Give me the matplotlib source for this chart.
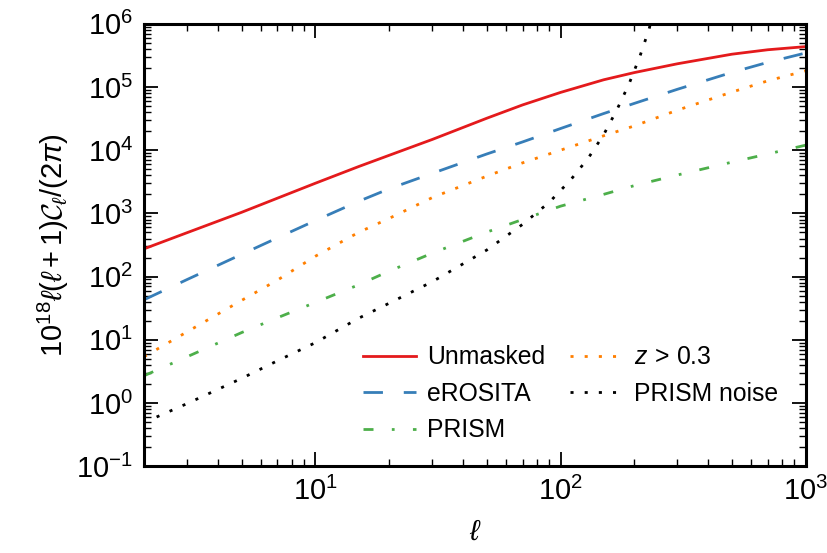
"""
Angular power spectra for the different masks, with PRISM noise
"""

import matplotlib
matplotlib.use('Agg')
from matplotlib import pyplot as plt

plt.rcParams['font.family'] = ['Liberation Sans', 'DejaVu Sans']
plt.rcParams['mathtext.fontset'] = 'custom'
plt.rcParams['mathtext.rm'] = 'Liberation Sans'
plt.rcParams['mathtext.it'] = 'Liberation Sans:italic'
plt.rcParams['mathtext.cal'] = 'cmsy10'
plt.rcParams['font.size'] = 21

# multipoles and spectra
ell = [2, 3, 5, 7, 10, 15, 20, 30, 50, 70, 100, 150, 200, 300, 500, 700, 1000]
unmasked = [275, 496, 1040, 1740, 3000, 5500, 8300, 14800, 32000, 52000, 82000,
            130000, 169000, 233000, 330000, 388000, 435000]
erosita = [43, 90, 225, 410, 770, 1550, 2450, 4300, 8700, 13500, 22000,
           38000, 55000, 92000, 170000, 245000, 345000]
prism = [2.7, 5.4, 13, 22.3, 39, 74, 122, 235, 505, 800, 1300,
         2000, 2750, 4050, 6460, 8700, 12000]
z_cut = [5.4, 13.4, 42, 88, 210, 500, 834, 1780, 3880, 6300, 10000,
         16900, 24200, 43000, 83000, 125000, 180000]

ell_noise = [2.25, 3, 5, 7, 10, 15, 20, 30, 50, 70, 90, 110, 130, 150, 170, 190, 210, 230, 240]
prism_noise = [0.6, 0.98, 2.45, 4.65, 9, 21.9, 37.9, 83, 263, 670, 1500, 3390, 7570,
               17600, 44000, 110000, 293000, 833000, 1.7e6]

fig = plt.figure(figsize=(8.28, 5.53), dpi=100)
ax = fig.add_axes([0.174, 0.157, 0.799, 0.8])

ax.plot(ell, unmasked, color='#e41a1c', lw=2, label='Unmasked')
ax.plot(ell, erosita, color='#377eb8', lw=2, dashes=(7, 7.5), label='eROSITA')
ax.plot(ell, prism, color='#4daf4a', lw=2, dashes=(3.6, 6.6, 1, 6.6), label='PRISM')
ax.plot(ell, z_cut, color='#ff7f00', lw=2, dashes=(1.1, 4), label=r'$z\,>\,0.3$')
ax.plot(ell_noise, prism_noise, color='black', lw=2, dashes=(1.1, 4), label='PRISM noise')

ax.set_xscale('log')
ax.set_yscale('log')
ax.set_xlim(2, 1000)
ax.set_ylim(1e-1, 1e6)
ax.set_xlabel(r'$\ell$', labelpad=8)
ax.set_ylabel(r'$10^{18}\ell(\ell+1)\mathcal{C}_\ell/(2\pi)$')

for s in ax.spines.values():
    s.set_linewidth(2.2)
ax.tick_params(which='both', direction='in', top=True, right=True, pad=8)
ax.tick_params(which='major', length=10, width=1.3)
ax.tick_params(which='minor', length=5, width=1)

ax.legend(ncol=2, frameon=False, loc='lower right', bbox_to_anchor=(0.992, 0.004),
          fontsize=17.8, handlelength=2.15, handletextpad=0.45, columnspacing=1.0,
          labelspacing=0.5)

fig.savefig('out.png', dpi=100)
